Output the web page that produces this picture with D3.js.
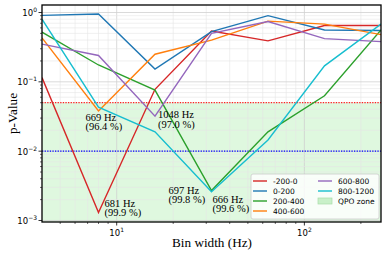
<!DOCTYPE html>
<html><head><meta charset="utf-8">
<script src="https://cdn.jsdelivr.net/npm/d3@7"></script>
<style>body{margin:0;background:#fff}svg{display:block}</style>
</head><body>
<svg id="c" width="385" height="254"></svg>
<script>
const binWidths = [4, 8, 16, 32, 64, 128, 256];
const seriesNames = ["-200-0", "0-200", "200-400", "400-600", "600-800", "800-1200"];
const seriesColors = ["#d62728", "#1f77b4", "#2ca02c", "#ff7f0e", "#9467bd", "#17becf"];
const pNeg200_0   = [0.115, 0.0013, 0.078, 0.54, 0.39, 0.65, 0.65];
const p0_200      = [0.91, 0.95, 0.153, 0.53, 0.90, 0.56, 0.55];
const p200_400    = [0.52, 0.175, 0.076, 0.0027, 0.019, 0.063, 0.56];
const p400_600    = [0.43, 0.038, 0.25, 0.40, 0.75, 0.68, 0.48];
const p600_800    = [0.35, 0.24, 0.032, 0.50, 0.74, 0.42, 0.38];
const p800_1200   = [0.80, 0.043, 0.019, 0.0026, 0.0145, 0.17, 0.68];
const seriesValues = [pNeg200_0, p0_200, p200_400, p400_600, p600_800, p800_1200];
const qpoThreshold = 0.05;
const secondThreshold = 0.01;
const annotations = [
  {x: 8,  y: 0.038,  l1: "669 Hz",  l2: "(96.4 %)", dx: -13, dy: 10},
  {x: 8,  y: 0.0013, l1: "681 Hz",  l2: "(99.9 %)", dx: 6,  dy: -6},
  {x: 16, y: 0.032,  l1: "1048 Hz", l2: "(97.0 %)", dx: 3,  dy: 2},
  {x: 32, y: 0.0026, l1: "697 Hz",  l2: "(99.8 %)", dx: -43, dy: 2},
  {x: 32, y: 0.0027, l1: "666 Hz",  l2: "(99.6 %)", dx: 1,  dy: 12}
];
const yTickVals = [1, 0.1, 0.01, 0.001];
const yTickExp = ["0", "\u22121", "\u22122", "\u22123"];
const xTickVals = [10, 100];
const xTickExp = ["1", "2"];

const svg = d3.select("#c");
const L = 42, R = 381, T = 5, B = 222;
const x = d3.scaleLog().domain([4, 256]).range([L, R]);
const y = d3.scaleLog().domain([0.000951, 1.283]).range([B, T]);

// QPO zone
svg.append("rect").attr("x", L).attr("y", y(qpoThreshold)).attr("width", R - L)
  .attr("height", B - y(qpoThreshold)).attr("fill", "#dff8df");

// grid
const g = svg.append("g");
const minorX = [];
for (let d = 1; d <= 100; d *= 10) for (let k = 1; k < 10; k++) { const v = k * d; if (v > 4 && v < 256) minorX.push(v); }
const minorY = [];
for (let d = 0.001; d <= 1; d *= 10) for (let k = 1; k < 10; k++) { const v = k * d; if (v > 0.000951 && v < 1.283) minorY.push(v); }
const isMajY = v => yTickVals.some(t => Math.abs(t - v) / v < 1e-6);
g.selectAll(".gx").data(minorX).join("line").attr("x1", d => x(d)).attr("x2", d => x(d))
  .attr("y1", T).attr("y2", B).attr("stroke", d => xTickVals.includes(d) ? "#d0d0d0" : "#e6e6e6").attr("stroke-width", d => xTickVals.includes(d) ? 0.8 : 0.6);
g.selectAll(".gy").data(minorY).join("line").attr("y1", d => y(d)).attr("y2", d => y(d))
  .attr("x1", L).attr("x2", R).attr("stroke", d => isMajY(d) ? "#d0d0d0" : "#e6e6e6").attr("stroke-width", d => isMajY(d) ? 0.8 : 0.6);

// thresholds
svg.append("line").attr("x1", L).attr("x2", R).attr("y1", y(qpoThreshold)).attr("y2", y(qpoThreshold))
  .attr("stroke", "#ff2020").attr("stroke-width", 1.3).attr("stroke-dasharray", "1.3,1.3");
svg.append("line").attr("x1", L).attr("x2", R).attr("y1", y(secondThreshold)).attr("y2", y(secondThreshold))
  .attr("stroke", "#0000ff").attr("stroke-width", 1.3).attr("stroke-dasharray", "1.3,1.3");

// lines
const line = d3.line().x((d, i) => x(binWidths[i])).y(d => y(d));
svg.append("clipPath").attr("id", "pc").append("rect").attr("x", L).attr("y", T).attr("width", R - L).attr("height", B - T);
seriesValues.forEach((vals, k) => {
  svg.append("path").attr("d", line(vals)).attr("fill", "none").attr("stroke", seriesColors[k])
    .attr("stroke-width", 1.4).attr("clip-path", "url(#pc)");
});

// annotations
annotations.forEach(a => {
  const t = svg.append("text").attr("font-family", "Liberation Serif, Times New Roman, serif")
    .attr("font-size", 10.5).attr("fill", "#000");
  const px = x(a.x) + a.dx, py = y(a.y) + a.dy;
  t.append("tspan").attr("x", px).attr("y", py).text(a.l1);
  t.append("tspan").attr("x", px).attr("y", py + 9.5).text(a.l2);
});

// frame
svg.append("rect").attr("x", L).attr("y", T).attr("width", R - L).attr("height", B - T)
  .attr("fill", "none").attr("stroke", "#000").attr("stroke-width", 1.3);

// ticks
const tk = svg.append("g").attr("stroke", "#000");
minorX.forEach(v => {
  const major = xTickVals.includes(v);
  tk.append("line").attr("x1", x(v)).attr("x2", x(v)).attr("y1", B).attr("y2", B + (major ? 3.5 : 2)).attr("stroke-width", major ? 0.8 : 0.6);
});
minorY.forEach(v => {
  const major = isMajY(v);
  tk.append("line").attr("y1", y(v)).attr("y2", y(v)).attr("x1", L).attr("x2", L - (major ? 3.5 : 2)).attr("stroke-width", major ? 0.8 : 0.6);
});
yTickVals.forEach((v, i) => {
  const t = svg.append("text").attr("x", L - 5).attr("y", y(v) + 3.5).attr("text-anchor", "end")
    .attr("font-family", "DejaVu Sans, sans-serif").attr("font-size", 8.5).attr("fill", "#000");
  t.append("tspan").text("10");
  t.append("tspan").attr("font-size", 6).attr("dy", -4).text(yTickExp[i]);
});
xTickVals.forEach((v, i) => {
  const t = svg.append("text").attr("x", x(v)).attr("y", B + 14).attr("text-anchor", "middle")
    .attr("font-family", "DejaVu Sans, sans-serif").attr("font-size", 8.5).attr("fill", "#000");
  t.append("tspan").text("10");
  t.append("tspan").attr("font-size", 6).attr("dy", -4).text(xTickExp[i]);
});

// axis labels
svg.append("text").attr("x", 212).attr("y", 247).attr("text-anchor", "middle")
  .attr("font-family", "Liberation Serif, Times New Roman, serif").attr("font-size", 13.2).text("Bin width (Hz)");
svg.append("text").attr("transform", `translate(17,${(T + B) / 2}) rotate(-90)`).attr("text-anchor", "middle")
  .attr("font-family", "Liberation Serif, Times New Roman, serif").attr("font-size", 13.2).text("p-Value");

// legend
const lg = svg.append("g");
lg.append("rect").attr("x", 251).attr("y", 174).attr("width", 128).attr("height", 45).attr("rx", 2)
  .attr("fill", "#fff").attr("fill-opacity", 0.8).attr("stroke", "#cccccc").attr("stroke-width", 0.8);
const legendItems = seriesNames.map((n, k) => ({name: n, color: seriesColors[k], type: "line"}))
  .concat([{name: "QPO zone", color: "#dff8df", type: "patch"}]);
legendItems.forEach((it, i) => {
  const col = i < 4 ? 0 : 1, row = i < 4 ? i : i - 4;
  const hx = col === 0 ? 253 : 318, ty = 181 + row * 10;
  if (it.type === "line") {
    lg.append("line").attr("x1", hx).attr("x2", hx + 14).attr("y1", ty).attr("y2", ty)
      .attr("stroke", it.color).attr("stroke-width", 1.4);
  } else {
    lg.append("rect").attr("x", hx).attr("y", ty - 3).attr("width", 14).attr("height", 6)
      .attr("fill", "#c9f0c9").attr("stroke", "#a8dca8").attr("stroke-width", 0.7);
  }
  lg.append("text").attr("x", hx + 20).attr("y", ty + 3).attr("font-family", "DejaVu Sans, sans-serif")
    .attr("font-size", 7.5).attr("fill", "#000").text(it.name);
});
</script>
</body></html>
